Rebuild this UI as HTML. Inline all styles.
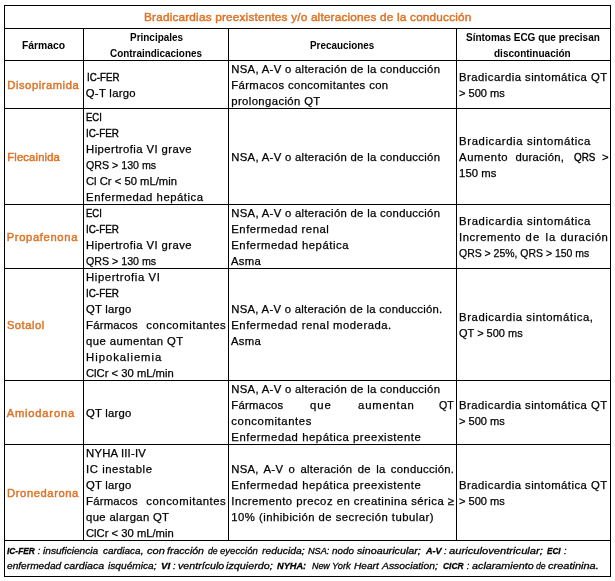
<!DOCTYPE html>
<html lang="es"><head><meta charset="utf-8"><title>Bradicardias preexistentes y/o alteraciones de la conducción</title>
<style>
html,body{margin:0;padding:0;background:#fff}
#pg{position:relative;width:615px;height:581px;overflow:hidden;background:#fff;font-family:'Liberation Sans', Arial, sans-serif}
.h,.v{position:absolute;background:#000}
.h{height:1px}
.v{width:1px}
.t{position:absolute;white-space:pre;line-height:16px;height:16px;transform-origin:0 0}
.r{font-size:11.3px;font-weight:normal;font-style:normal;color:#000;-webkit-text-stroke:0.25px #000}
.b{font-size:10.8px;font-weight:bold;font-style:normal;color:#000}
.o{font-size:11.2px;font-weight:normal;font-style:normal;color:#DD7327;-webkit-text-stroke:0.45px #DD7327}
.ot{font-size:11.8px;font-weight:normal;font-style:normal;color:#DD7327;-webkit-text-stroke:0.45px #DD7327}
.fi{font-size:9.1px;font-weight:normal;font-style:italic;color:#000;-webkit-text-stroke:0.28px #000}
.fb{font-size:9.1px;font-weight:bold;font-style:italic;color:#000;-webkit-text-stroke:0.3px #000}
</style></head><body>
<div id="pg">
<div class="h" style="left:4px;top:5px;width:607px"></div>
<div class="h" style="left:4px;top:28px;width:607px"></div>
<div class="h" style="left:4px;top:60px;width:607px"></div>
<div class="h" style="left:4px;top:108px;width:607px"></div>
<div class="h" style="left:4px;top:204px;width:607px"></div>
<div class="h" style="left:4px;top:268px;width:607px"></div>
<div class="h" style="left:4px;top:380px;width:607px"></div>
<div class="h" style="left:4px;top:444px;width:607px"></div>
<div class="h" style="left:4px;top:540px;width:607px"></div>
<div class="h" style="left:4px;top:576px;width:607px"></div>
<div class="v" style="left:4px;top:5px;height:572px"></div>
<div class="v" style="left:610px;top:5px;height:572px"></div>
<div class="v" style="left:83px;top:28px;height:513px"></div>
<div class="v" style="left:228px;top:28px;height:513px"></div>
<div class="v" style="left:456px;top:28px;height:513px"></div>
<div class="t ot" style="left:144.0px;top:8.91px;letter-spacing:0.18px">Bradicardias preexistentes y/o alteraciones de la conducción</div>
<div class="t b" style="left:22.3px;top:37.26px;transform:scaleX(0.9597)">Fármaco</div>
<div class="t b" style="left:129.9px;top:29.26px;transform:scaleX(0.9215)">Principales</div>
<div class="t b" style="left:110.0px;top:45.26px;transform:scaleX(0.9181)">Contraindicaciones</div>
<div class="t b" style="left:309.9px;top:37.26px;transform:scaleX(0.9143)">Precauciones</div>
<div class="t b" style="left:466.3px;top:29.26px;transform:scaleX(0.9253)">Síntomas ECG que precisan</div>
<div class="t b" style="left:494.2px;top:45.26px;transform:scaleX(0.9265)">discontinuación</div>
<div class="t o" style="left:7.3px;top:77.12px;letter-spacing:0.55px">Disopiramida</div>
<div class="t r" style="left:86.5px;top:69.08px;transform:scaleX(0.8631);-webkit-text-stroke-width:0.4px">IC-FER</div>
<div class="t r" style="left:85.8px;top:85.08px;letter-spacing:0.29px">Q-T largo</div>
<div class="t r" style="left:231.3px;top:61.08px;letter-spacing:0.31px">NSA, A-V o alteración de la conducción</div>
<div class="t r" style="left:231.3px;top:77.08px;letter-spacing:0.37px">Fármacos concomitantes con</div>
<div class="t r" style="left:231.3px;top:93.08px;letter-spacing:0.39px">prolongación QT</div>
<div class="t r" style="left:459.1px;top:69.08px;letter-spacing:0.47px">Bradicardia sintomática QT</div>
<div class="t r" style="left:459.1px;top:85.08px;transform:scaleX(0.9808)">&gt; 500 ms</div>
<div class="t o" style="left:7.3px;top:149.12px;letter-spacing:0.17px">Flecainida</div>
<div class="t r" style="left:86.1px;top:109.08px;transform:scaleX(0.8385);-webkit-text-stroke-width:0.4px">ECI</div>
<div class="t r" style="left:86.1px;top:125.08px;transform:scaleX(0.8737);-webkit-text-stroke-width:0.4px">IC-FER</div>
<div class="t r" style="left:86.1px;top:141.08px;letter-spacing:0.43px">Hipertrofia VI grave</div>
<div class="t r" style="left:86.1px;top:157.08px;transform:scaleX(0.9435)">QRS &gt; 130 ms</div>
<div class="t r" style="left:86.1px;top:173.08px;transform:scaleX(0.9951)">Cl Cr &lt; 50 mL/min</div>
<div class="t r" style="left:86.1px;top:189.08px;letter-spacing:0.53px">Enfermedad hepática</div>
<div class="t r" style="left:231.3px;top:149.08px;letter-spacing:0.31px">NSA, A-V o alteración de la conducción</div>
<div class="t r" style="left:459.1px;top:133.08px;letter-spacing:0.63px">Bradicardia sintomática</div>
<div class="t r" style="left:459.1px;top:149.08px;letter-spacing:0.55px">Aumento</div>
<div class="t r" style="left:515.5px;top:149.08px;letter-spacing:0.24px">duración,</div>
<div class="t r" style="left:573.5px;top:149.08px;transform:scaleX(0.8699);-webkit-text-stroke-width:0.4px">QRS</div>
<div class="t r" style="left:602.1px;top:149.08px">&gt;</div>
<div class="t r" style="left:459.1px;top:165.08px;letter-spacing:0.05px">150 ms</div>
<div class="t o" style="left:6.7px;top:229.12px;letter-spacing:0.66px">Propafenona</div>
<div class="t r" style="left:86.1px;top:205.08px;transform:scaleX(0.8385);-webkit-text-stroke-width:0.4px">ECI</div>
<div class="t r" style="left:86.1px;top:221.08px;transform:scaleX(0.8737);-webkit-text-stroke-width:0.4px">IC-FER</div>
<div class="t r" style="left:86.1px;top:237.08px;letter-spacing:0.43px">Hipertrofia VI grave</div>
<div class="t r" style="left:86.1px;top:253.08px;transform:scaleX(0.9435)">QRS &gt; 130 ms</div>
<div class="t r" style="left:231.3px;top:205.08px;letter-spacing:0.31px">NSA, A-V o alteración de la conducción</div>
<div class="t r" style="left:231.3px;top:221.08px;letter-spacing:0.51px">Enfermedad renal</div>
<div class="t r" style="left:231.3px;top:237.08px;letter-spacing:0.54px">Enfermedad hepática</div>
<div class="t r" style="left:230.9px;top:253.08px;letter-spacing:0.37px">Asma</div>
<div class="t r" style="left:459.1px;top:213.08px;letter-spacing:0.63px">Bradicardia sintomática</div>
<div class="t r" style="left:459.1px;top:229.08px;letter-spacing:0.55px">Incremento</div>
<div class="t r" style="left:525.4px;top:229.08px;letter-spacing:1.42px">de</div>
<div class="t r" style="left:545.4px;top:229.08px;letter-spacing:1.00px">la</div>
<div class="t r" style="left:560.5px;top:229.08px;letter-spacing:0.57px">duración</div>
<div class="t r" style="left:458.8px;top:245.08px;transform:scaleX(0.9264)">QRS &gt; 25%, QRS &gt; 150 ms</div>
<div class="t o" style="left:6.9px;top:317.12px;letter-spacing:0.51px">Sotalol</div>
<div class="t r" style="left:86.1px;top:269.08px;letter-spacing:0.60px">Hipertrofia VI</div>
<div class="t r" style="left:86.1px;top:285.08px;transform:scaleX(0.8737);-webkit-text-stroke-width:0.4px">IC-FER</div>
<div class="t r" style="left:86.1px;top:301.08px;letter-spacing:0.19px">QT largo</div>
<div class="t r" style="left:86.1px;top:333.08px;letter-spacing:0.42px">que aumentan QT</div>
<div class="t r" style="left:86.1px;top:349.08px;letter-spacing:0.95px">Hipokaliemia</div>
<div class="t r" style="left:86.1px;top:365.08px;transform:scaleX(0.9943)">ClCr &lt; 30 mL/min</div>
<div class="t r" style="left:86.1px;top:317.08px;letter-spacing:0.20px">Fármacos</div>
<div class="t r" style="left:146.3px;top:317.08px;letter-spacing:0.55px">concomitantes</div>
<div class="t r" style="left:231.3px;top:301.08px;letter-spacing:0.28px">NSA, A-V o alteración de la conducción.</div>
<div class="t r" style="left:231.3px;top:317.08px;letter-spacing:0.52px">Enfermedad renal moderada.</div>
<div class="t r" style="left:230.9px;top:333.08px;letter-spacing:0.37px">Asma</div>
<div class="t r" style="left:459.1px;top:309.08px;letter-spacing:0.58px">Bradicardia sintomática,</div>
<div class="t r" style="left:458.8px;top:325.08px;transform:scaleX(0.9739)">QT &gt; 500 ms</div>
<div class="t o" style="left:6.7px;top:405.12px;letter-spacing:0.79px">Amiodarona</div>
<div class="t r" style="left:86.1px;top:405.08px;letter-spacing:0.19px">QT largo</div>
<div class="t r" style="left:231.3px;top:381.08px;letter-spacing:0.31px">NSA, A-V o alteración de la conducción</div>
<div class="t r" style="left:231.3px;top:397.08px;letter-spacing:0.24px">Fármacos</div>
<div class="t r" style="left:310.1px;top:397.08px;letter-spacing:0.92px">que</div>
<div class="t r" style="left:358.1px;top:397.08px;letter-spacing:0.79px">aumentan</div>
<div class="t r" style="left:439.3px;top:397.08px;transform:scaleX(0.9425)">QT</div>
<div class="t r" style="left:231.3px;top:413.08px;letter-spacing:0.60px">concomitantes</div>
<div class="t r" style="left:231.3px;top:429.08px;letter-spacing:0.56px">Enfermedad hepática preexistente</div>
<div class="t r" style="left:459.1px;top:397.08px;letter-spacing:0.47px">Bradicardia sintomática QT</div>
<div class="t r" style="left:459.1px;top:413.08px;transform:scaleX(0.9808)">&gt; 500 ms</div>
<div class="t o" style="left:7.1px;top:485.12px;letter-spacing:0.59px">Dronedarona</div>
<div class="t r" style="left:86.1px;top:445.08px;letter-spacing:0.19px">NYHA III-IV</div>
<div class="t r" style="left:86.1px;top:461.08px;letter-spacing:0.56px">IC inestable</div>
<div class="t r" style="left:86.1px;top:477.08px;letter-spacing:0.19px">QT largo</div>
<div class="t r" style="left:86.1px;top:509.08px;letter-spacing:0.34px">que alargan QT</div>
<div class="t r" style="left:86.1px;top:525.08px;transform:scaleX(0.9943)">ClCr &lt; 30 mL/min</div>
<div class="t r" style="left:86.1px;top:493.08px;letter-spacing:0.20px">Fármacos</div>
<div class="t r" style="left:146.3px;top:493.08px;letter-spacing:0.55px">concomitantes</div>
<div class="t r" style="left:231.3px;top:461.08px;letter-spacing:0.28px;word-spacing:1.95px">NSA, A-V o alteración de la conducción.</div>
<div class="t r" style="left:231.3px;top:477.08px;letter-spacing:0.56px">Enfermedad hepática preexistente</div>
<div class="t r" style="left:231.3px;top:493.08px;letter-spacing:0.48px">Incremento precoz en creatinina sérica ≥</div>
<div class="t r" style="left:231.3px;top:509.08px;letter-spacing:0.47px">10% (inhibición de secreción tubular)</div>
<div class="t r" style="left:459.1px;top:477.08px;letter-spacing:0.47px">Bradicardia sintomática QT</div>
<div class="t r" style="left:459.1px;top:493.08px;transform:scaleX(0.9808)">&gt; 500 ms</div>
<div class="t fb" style="left:7.0px;top:543.05px;transform:scaleX(0.9204)">IC-FER</div>
<div class="t fi" style="left:37.8px;top:543.05px">:</div>
<div class="t fi" style="left:43.4px;top:543.05px;transform:scaleX(1.1141)">insuficiencia</div>
<div class="t fi" style="left:102.5px;top:543.05px;transform:scaleX(1.0947)">cardiaca,</div>
<div class="t fi" style="left:146.7px;top:543.05px;transform:scaleX(1.2200)">con</div>
<div class="t fi" style="left:166.6px;top:543.05px;transform:scaleX(1.1619)">fracción</div>
<div class="t fi" style="left:207.5px;top:543.05px;transform:scaleX(0.9580)">de</div>
<div class="t fi" style="left:219.9px;top:543.05px;transform:scaleX(1.0527)">eyección</div>
<div class="t fi" style="left:261.6px;top:543.05px;transform:scaleX(1.1410)">reducida;</div>
<div class="t fi" style="left:308.3px;top:543.05px;transform:scaleX(1.0078)">NSA:</div>
<div class="t fi" style="left:332.2px;top:543.05px;transform:scaleX(1.0873)">nodo</div>
<div class="t fi" style="left:356.9px;top:543.05px;transform:scaleX(1.1794)">sinoauricular;</div>
<div class="t fb" style="left:426.4px;top:543.05px;transform:scaleX(1.0018)">A-V</div>
<div class="t fi" style="left:444.1px;top:543.05px">:</div>
<div class="t fi" style="left:448.5px;top:543.05px;transform:scaleX(1.2302)">auriculoventricular;</div>
<div class="t fb" style="left:547.1px;top:543.05px;transform:scaleX(0.8964)">ECI</div>
<div class="t fi" style="left:564.0px;top:543.05px">:</div>
<div class="t fi" style="left:7.0px;top:558.05px;transform:scaleX(1.1164)">enfermedad</div>
<div class="t fi" style="left:64.2px;top:558.05px;transform:scaleX(1.1665)">cardiaca</div>
<div class="t fi" style="left:107.7px;top:558.05px;transform:scaleX(1.1180)">isquémica;</div>
<div class="t fb" style="left:161.4px;top:558.05px;transform:scaleX(1.0705)">VI</div>
<div class="t fi" style="left:173.0px;top:558.05px">:</div>
<div class="t fi" style="left:177.7px;top:558.05px;transform:scaleX(1.1715)">ventrículo</div>
<div class="t fi" style="left:225.9px;top:558.05px;transform:scaleX(1.1842)">izquierdo;</div>
<div class="t fb" style="left:277.2px;top:558.05px;transform:scaleX(1.0105)">NYHA:</div>
<div class="t fi" style="left:311.9px;top:558.05px;transform:scaleX(0.9779)">New</div>
<div class="t fi" style="left:332.2px;top:558.05px;transform:scaleX(1.0328)">York</div>
<div class="t fi" style="left:354.3px;top:558.05px;transform:scaleX(1.1146)">Heart</div>
<div class="t fi" style="left:382.4px;top:558.05px;transform:scaleX(1.1380)">Association;</div>
<div class="t fb" style="left:443.3px;top:558.05px;transform:scaleX(0.9265)">CICR</div>
<div class="t fi" style="left:466.8px;top:558.05px">:</div>
<div class="t fi" style="left:471.6px;top:558.05px;transform:scaleX(1.1848)">aclaramiento</div>
<div class="t fi" style="left:536.1px;top:558.05px;transform:scaleX(0.9580)">de</div>
<div class="t fi" style="left:548.4px;top:558.05px;transform:scaleX(1.2104)">creatinina.</div>
</div>
</body></html>
